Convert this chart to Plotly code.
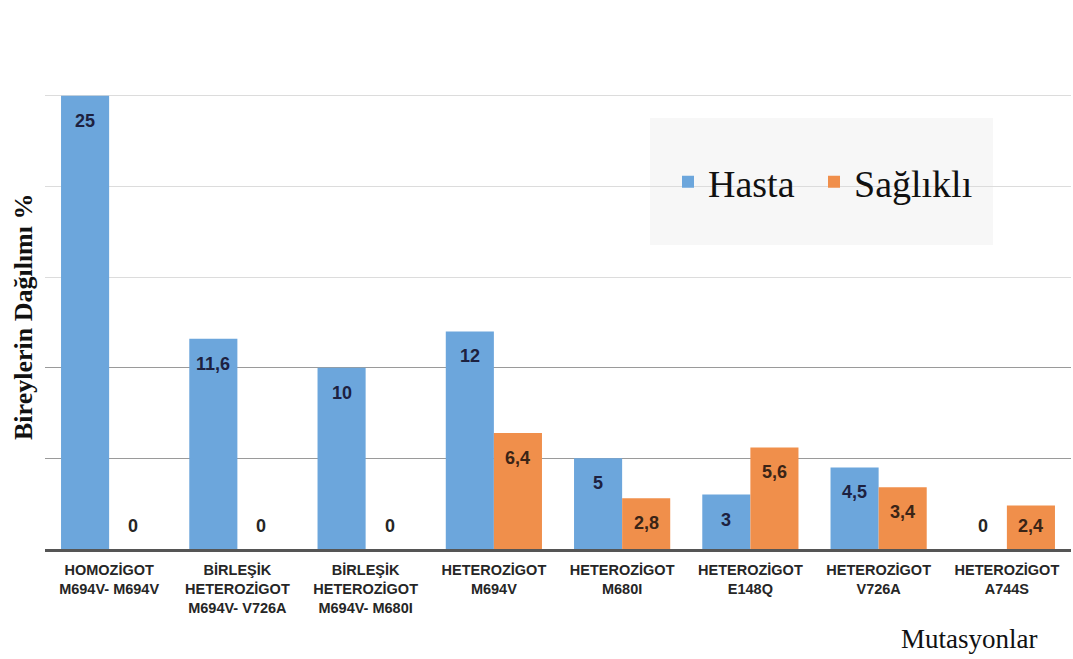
import plotly.graph_objects as go

categories = [
    "HOMOZİGOT<br>M694V- M694V",
    "BİRLEŞİK<br>HETEROZİGOT<br>M694V- V726A",
    "BİRLEŞİK<br>HETEROZİGOT<br>M694V- M680I",
    "HETEROZİGOT<br>M694V",
    "HETEROZİGOT<br>M680I",
    "HETEROZİGOT<br>E148Q",
    "HETEROZİGOT<br>V726A",
    "HETEROZİGOT<br>A744S",
]
hasta = [25, 11.6, 10, 12, 5, 3, 4.5, 0]
saglikli = [0, 0, 0, 6.4, 2.8, 5.6, 3.4, 2.4]
series_names = ["Hasta", "Sağlıklı"]
y_title = "Bireylerin Dağılımı %"
x_title = "Mutasyonlar"

BLUE = "#6ca6dc"
ORANGE = "#f08f4b"
W, H = 1073, 659
M_L, M_R, M_T, M_B = 45, 2, 5, 110
Y_MAX = 30
plot_h = H - M_T - M_B
plot_w = W - M_L - M_R
px_per_unit = plot_h / Y_MAX
bargap = 0.25
bar_px = plot_w / len(categories) * (1 - bargap) / 2

label_font = "Liberation Sans, Arial, sans-serif"
serif = "Liberation Serif, Times New Roman, serif"

fig = go.Figure()
fig.add_trace(go.Bar(x=categories, y=hasta, name=series_names[0], legend="legend",
                     marker=dict(color=BLUE, line=dict(width=0))))
fig.add_trace(go.Bar(x=categories, y=saglikli, name=series_names[1], legend="legend2",
                     marker=dict(color=ORANGE, line=dict(width=0))))

def fmt(v):
    return ("%g" % v).replace(".", ",")

annotations = []
for vals, side, col in [(hasta, -1, "#1d2140"), (saglikli, 1, "#3a2416")]:
    for c, v in zip(categories, vals):
        h = v * px_per_unit
        shift = -min(25, h - 23)
        annotations.append(dict(
            x=c, y=v, xref="x", yref="y", text="<b>%s</b>" % fmt(v),
            showarrow=False, xshift=side * bar_px / 2, yshift=shift,
            font=dict(family=label_font, size=18, color=col if v > 0 else "#262626"),
        ))

annotations.append(dict(
    x=(23 - M_L) / plot_w, y=(H - M_B - 317) / plot_h, xref="paper", yref="paper",
    xanchor="center", yanchor="middle",
    text="<b>%s</b>" % y_title, textangle=-90, showarrow=False,
    font=dict(family=serif, size=26, color="#111"),
))
annotations.append(dict(
    x=(1039 - M_L) / plot_w, y=(H - M_B - 639) / plot_h, xref="paper", yref="paper",
    xanchor="right", yanchor="middle",
    text=x_title, showarrow=False,
    font=dict(family=serif, size=27, color="#111"),
))

shapes = [dict(
    type="rect", xref="paper", yref="paper", layer="below",
    x0=(650 - M_L) / plot_w, x1=(993 - M_L) / plot_w,
    y0=(H - M_B - 245) / plot_h, y1=(H - M_B - 118) / plot_h,
    fillcolor="#f7f7f7", line=dict(width=0),
)]

legend_common = dict(orientation="h", xanchor="left", yanchor="middle",
                     bgcolor="rgba(0,0,0,0)", y=(H - M_B - 182) / plot_h,
                     font=dict(family=serif, size=38, color="#111"))

fig.update_layout(
    width=W, height=H,
    margin=dict(l=M_L, r=M_R, t=M_T, b=M_B),
    paper_bgcolor="white", plot_bgcolor="rgba(0,0,0,0)",
    barmode="group", bargap=bargap, bargroupgap=0,
    showlegend=True,
    legend=dict(x=(668 - M_L) / plot_w, **legend_common),
    legend2=dict(x=(814 - M_L) / plot_w, **legend_common),
    annotations=annotations, shapes=shapes,
    xaxis=dict(showline=True, linecolor="#555555", linewidth=2.5, ticks="",
               tickfont=dict(family=label_font, size=14.5, color="#262626"),
               ticklabelstandoff=6,
               showgrid=False, zeroline=False),
    yaxis=dict(range=[0, Y_MAX], dtick=5, showticklabels=False, ticks="",
               gridcolor="#dcdcdc", gridwidth=1, zeroline=False, showline=False),
    yaxis2=dict(range=[0, Y_MAX], overlaying="y", tickvals=[5, 10], showticklabels=False,
                ticks="", gridcolor="#9a9a9a", gridwidth=1, zeroline=False, showline=False),
)
fig.update_xaxes(tickprefix="<b>", ticksuffix="</b>")
fig.add_trace(go.Scatter(x=[categories[0]], y=[0], yaxis="y2", mode="markers",
                         marker=dict(opacity=0), showlegend=False, hoverinfo="skip"))

fig.write_html("out.html")
